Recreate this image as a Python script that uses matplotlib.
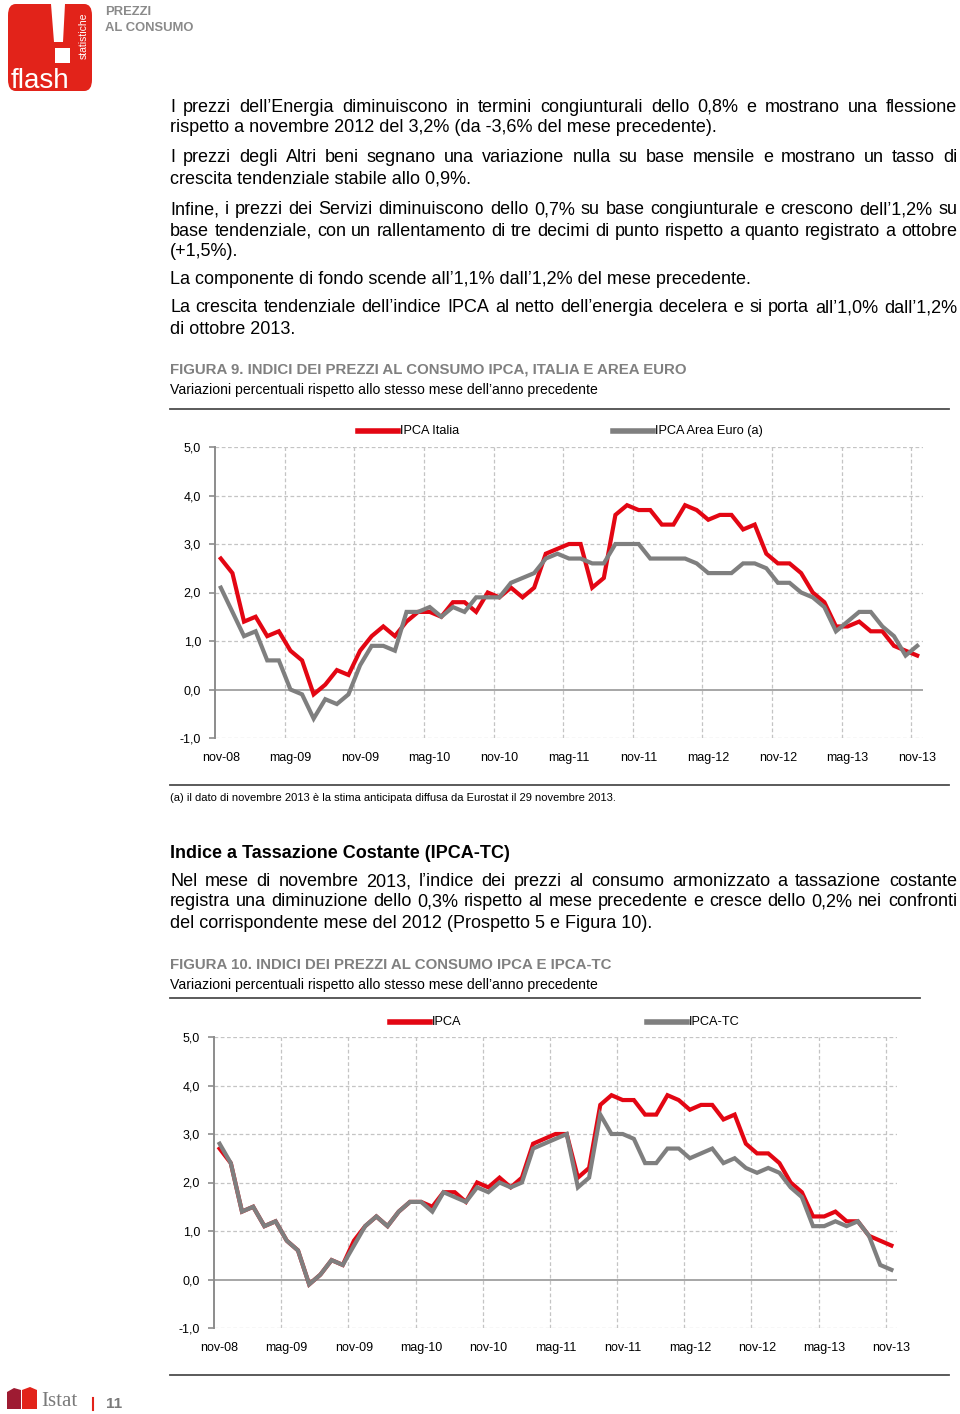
import matplotlib
matplotlib.use('Agg')
import numpy as np
import matplotlib.pyplot as plt
from matplotlib import font_manager
from matplotlib.patches import FancyBboxPatch, Rectangle, Polygon
from matplotlib.lines import Line2D

# ---------------- data ----------------
tick_labels = ['nov-08', 'mag-09', 'nov-09', 'mag-10', 'nov-10', 'mag-11',
               'nov-11', 'mag-12', 'nov-12', 'mag-13', 'nov-13']

# monthly, nov-2008 .. nov-2013
ipca_italia = [2.7, 2.4,
               1.4, 1.5, 1.1, 1.2, 0.8, 0.6, -0.1, 0.1, 0.4, 0.3, 0.8, 1.1,
               1.3, 1.1, 1.4, 1.6, 1.6, 1.5, 1.8, 1.8, 1.6, 2.0, 1.9, 2.1,
               1.9, 2.1, 2.8, 2.9, 3.0, 3.0, 2.1, 2.3, 3.6, 3.8, 3.7, 3.7,
               3.4, 3.4, 3.8, 3.7, 3.5, 3.6, 3.6, 3.3, 3.4, 2.8, 2.6, 2.6,
               2.4, 2.0, 1.8, 1.3, 1.3, 1.4, 1.2, 1.2, 0.9, 0.8, 0.7]

ipca_area_euro = [2.1, 1.6,
                  1.1, 1.2, 0.6, 0.6, 0.0, -0.1, -0.6, -0.2, -0.3, -0.1, 0.5, 0.9,
                  0.9, 0.8, 1.6, 1.6, 1.7, 1.5, 1.7, 1.6, 1.9, 1.9, 1.9, 2.2,
                  2.3, 2.4, 2.7, 2.8, 2.7, 2.7, 2.6, 2.6, 3.0, 3.0, 3.0, 2.7,
                  2.7, 2.7, 2.7, 2.6, 2.4, 2.4, 2.4, 2.6, 2.6, 2.5, 2.2, 2.2,
                  2.0, 1.9, 1.7, 1.2, 1.4, 1.6, 1.6, 1.3, 1.1, 0.7, 0.9]

ipca = ipca_italia

ipca_tc = [2.8, 2.4,
           1.4, 1.5, 1.1, 1.2, 0.8, 0.6, -0.1, 0.1, 0.4, 0.3, 0.7, 1.1,
           1.3, 1.1, 1.4, 1.6, 1.6, 1.4, 1.8, 1.7, 1.6, 1.9, 1.8, 2.0,
           1.9, 2.0, 2.7, 2.8, 2.9, 3.0, 1.9, 2.1, 3.4, 3.0, 3.0, 2.9,
           2.4, 2.4, 2.7, 2.7, 2.5, 2.6, 2.7, 2.4, 2.5, 2.3, 2.2, 2.3,
           2.2, 1.9, 1.7, 1.1, 1.1, 1.2, 1.1, 1.2, 0.9, 0.3, 0.2]

# ---------------- setup ----------------
W, H = 960, 1414
fig = plt.figure(figsize=(9.6, 14.14), dpi=100)
renderer = fig.canvas.get_renderer()

names = {f.name for f in font_manager.fontManager.ttflist}
NARROW = 'Liberation Sans Narrow' if 'Liberation Sans Narrow' in names else 'Liberation Sans'
SANS = 'Liberation Sans'
SERIF = 'Liberation Serif' if 'Liberation Serif' in names else 'DejaVu Serif'

RED = '#e30613'
GREY = '#7f7f7f'
TITLE_GREY = '#808080'


def fx(x):
    return x / W


def fy(y):
    return 1 - y / H


def txt(x, y, s, size, family=SANS, color='black', weight='normal',
        ha='left', va=None, **kw):
    # y is the visual centre of the line; place on a common baseline
    if va is None:
        va = 'baseline'
        y = y + size * 100 / 72 * 0.36
    return fig.text(fx(x), fy(y), s, fontsize=size, family=family, color=color,
                    weight=weight, ha=ha, va=va, **kw)


def justify(x0, x1, y, line, size, family=SANS):
    words = line.split(' ')
    widths = []
    for w in words:
        t = fig.text(0, 0, w, fontsize=size, family=family)
        widths.append(t.get_window_extent(renderer).width)
        t.remove()
    gap = (x1 - x0 - sum(widths)) / (len(words) - 1)
    x = x0
    for w, wd in zip(words, widths):
        txt(x, y, w, size, family)
        x += wd + gap


def hline(x0, x1, y, color='#4d4d4d', lw=1.3):
    fig.add_artist(Line2D([fx(x0), fx(x1)], [fy(y), fy(y)], color=color, lw=lw,
                          transform=fig.transFigure))


# ---------------- header logo ----------------
fig.add_artist(FancyBboxPatch((fx(8), fy(91)), fx(84), (87) / H,
                              boxstyle='round,pad=0,rounding_size=0.008',
                              transform=fig.transFigure, fc='#e2231a', ec='none'))
fig.add_artist(Polygon([(fx(51), fy(4)), (fx(65), fy(4)), (fx(63), fy(42)), (fx(54), fy(42))],
                       closed=True, transform=fig.transFigure, fc='white', ec='none'))
fig.add_artist(Rectangle((fx(55), fy(63)), fx(15), 15 / H, transform=fig.transFigure,
                         fc='white', ec='none'))
txt(11, 78, 'flash', 20, color='white', va='center_baseline')
txt(84, 36, 'statistiche', 7.5, color='white', rotation=90, ha='center', va='center')
txt(105, 12, 'PREZZI', 9.4, family=NARROW, color='#8a8a8a', weight='bold', va='center')
txt(105, 28, 'AL CONSUMO', 9.4, family=NARROW, color='#8a8a8a', weight='bold', va='center')

# ---------------- body text ----------------
BODY = 13.0
X0, X1 = 170, 957
body_lines = [
    (105, 'I prezzi dell’Energia diminuiscono in termini congiunturali dello 0,8% e mostrano una flessione', True),
    (126, 'rispetto a novembre 2012 del 3,2% (da -3,6% del mese precedente).', False),
    (156, 'I prezzi degli Altri beni segnano una variazione nulla su base mensile e mostrano un tasso di', True),
    (177, 'crescita tendenziale stabile allo 0,9%.', False),
    (208, 'Infine, i prezzi dei Servizi diminuiscono dello 0,7% su base congiunturale e crescono dell’1,2% su', True),
    (229, 'base tendenziale, con un rallentamento di tre decimi di punto rispetto a quanto registrato a ottobre', True),
    (249, '(+1,5%).', False),
    (278, 'La componente di fondo scende all’1,1% dall’1,2% del mese precedente.', False),
    (306, 'La crescita tendenziale dell’indice IPCA al netto dell’energia decelera e si porta all’1,0% dall’1,2%', True),
    (327, 'di ottobre 2013.', False),
]
for y, s, j in body_lines:
    if j:
        justify(X0, X1, y, s, BODY)
    else:
        txt(X0, y, s, BODY)

# ---------------- figure 9 titles ----------------
txt(170, 368, 'FIGURA 9. INDICI DEI PREZZI AL CONSUMO IPCA, ITALIA E AREA EURO', 10.8,
    family=NARROW, color=TITLE_GREY, weight='bold')
txt(170, 389, 'Variazioni percentuali rispetto allo stesso mese dell’anno precedente', 10.1,
    family=NARROW)
hline(170, 949, 409)

# ---------------- section 2 text ----------------
txt(170, 852, 'Indice a Tassazione Costante (IPCA-TC)', 13.0, weight='bold')
justify(X0, X1, 880, 'Nel mese di novembre 2013, l’indice dei prezzi al consumo armonizzato a tassazione costante', BODY)
justify(X0, X1, 900, 'registra una diminuzione dello 0,3% rispetto al mese precedente e cresce dello 0,2% nei confronti', BODY)
txt(X0, 921, 'del corrispondente mese del 2012 (Prospetto 5 e Figura 10).', BODY)

txt(170, 964, 'FIGURA 10. INDICI DEI PREZZI AL CONSUMO IPCA E IPCA-TC', 10.8,
    family=NARROW, color=TITLE_GREY, weight='bold')
txt(170, 984, 'Variazioni percentuali rispetto allo stesso mese dell’anno precedente', 10.1,
    family=NARROW)
hline(170, 920, 998)

hline(170, 949, 785)
txt(170, 797, '(a) il dato di novembre 2013 è la stima anticipata diffusa da Eurostat il 29 novembre 2013.',
    8.05, family=NARROW)
hline(170, 949, 1375)


# ---------------- charts ----------------
def make_chart(left, right, top, bottom, s1, s2, n1, n2, leg1_x, leg2_x, leg_y):
    ax = fig.add_axes([fx(left), fy(bottom), (right - left) / W, (bottom - top) / H])
    x = np.arange(len(s1))
    ax.set_xlim(-0.5, len(s1) - 0.5)
    ax.set_ylim(-1, 5)
    for v in [-1, 1, 2, 3, 4, 5]:
        ax.axhline(v, color='#c4c4c4', lw=0.9, ls=(0, (3, 2)), zorder=1)
    for v in np.arange(5.5, len(s1) - 1, 6):
        ax.axvline(v, color='#c4c4c4', lw=0.9, ls=(0, (3, 2)), zorder=1)
    ax.axhline(0, color='#a6a6a6', lw=1.4, zorder=1.5)
    ax.plot(x, s1, color=RED, lw=3.0, solid_joinstyle='miter', zorder=3)
    ax.plot(x, s2, color=GREY, lw=3.0, solid_joinstyle='miter', zorder=4)
    for sp in ['top', 'right', 'bottom']:
        ax.spines[sp].set_visible(False)
    ax.spines['left'].set_color('#8c8c8c')
    ax.spines['left'].set_linewidth(1.4)
    yt = np.arange(-1, 5.01, 1)
    ax.set_yticks(yt)
    ax.set_yticklabels([f'{v:.1f}'.replace('.', ',') for v in yt], family=NARROW, fontsize=9.0)
    ax.tick_params(axis='y', length=4, width=1.2, color='#8c8c8c', pad=6)
    ax.set_xticks(np.arange(0, len(s1), 6))
    ax.set_xticklabels(tick_labels, family=NARROW, fontsize=9.0)
    ax.tick_params(axis='x', length=0, pad=10)
    ax.patch.set_alpha(0)
    # legend
    for lx, name, col in [(leg1_x, n1, RED), (leg2_x, n2, GREY)]:
        fig.add_artist(Line2D([fx(lx), fx(lx + 40)], [fy(leg_y), fy(leg_y)], color=col, lw=4,
                              transform=fig.transFigure))
        txt(lx + 42, leg_y, name, 9.2, family=NARROW, va='center')
    return ax


make_chart(215, 923, 447, 738, ipca_italia, ipca_area_euro,
           'IPCA Italia', 'IPCA Area Euro (a)', 358, 613, 431)
make_chart(214, 897, 1037, 1328, ipca, ipca_tc,
           'IPCA', 'IPCA-TC', 390, 647, 1022)

# ---------------- footer ----------------
fig.add_artist(Polygon([(fx(7), fy(1409)), (fx(7), fy(1392)), (fx(14), fy(1388)), (fx(21), fy(1390)), (fx(21), fy(1409))],
                       closed=True, transform=fig.transFigure, fc='#9e1b32', ec='none'))
fig.add_artist(Polygon([(fx(22), fy(1409)), (fx(22), fy(1390)), (fx(30), fy(1387)), (fx(37), fy(1390)), (fx(37), fy(1409))],
                       closed=True, transform=fig.transFigure, fc='#e2231a', ec='none'))
txt(41, 1401, 'Istat', 15, family=SERIF, color='#7a7a7a', va='center')
fig.add_artist(Line2D([fx(93), fx(93)], [fy(1398), fy(1410)], color='#e2231a', lw=1.5,
                      transform=fig.transFigure))
txt(106, 1404, '11', 11, color='#7a7a7a', weight='bold', va='center')

fig.savefig('out.png', dpi=100)
